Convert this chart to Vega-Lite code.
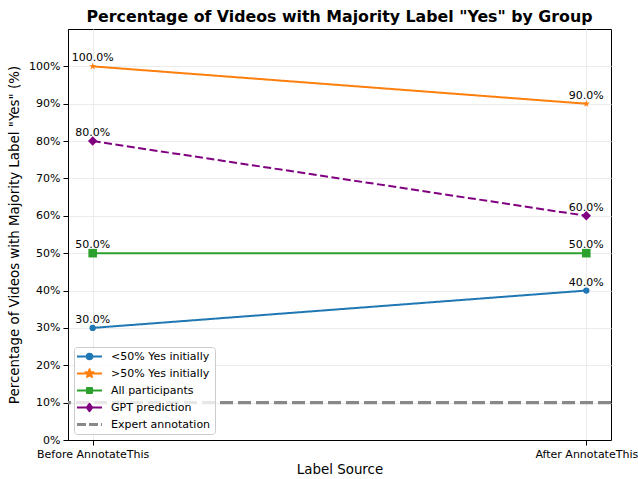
{
  "$schema": "https://vega.github.io/schema/vega-lite/v6.json",
  "width": 543,
  "height": 411,
  "autosize": {"type": "none"},
  "padding": {"left": 68, "top": 29, "right": 27, "bottom": 39},
  "background": "white",
  "title": {
    "text": "Percentage of Videos with Majority Label \"Yes\" by Group",
    "fontSize": 15.8,
    "fontWeight": "bold",
    "font": "DejaVu Sans",
    "color": "black",
    "anchor": "middle",
    "frame": "group",
    "baseline": "alphabetic",
    "offset": -9
  },
  "config": {
    "font": "DejaVu Sans",
    "view": {"stroke": "black", "strokeWidth": 1},
    "axis": {
      "domainColor": "black",
      "tickColor": "black",
      "labelColor": "black",
      "titleColor": "black",
      "labelFont": "DejaVu Sans",
      "titleFont": "DejaVu Sans",
      "labelFontSize": 11,
      "titleFontSize": 13.4,
      "titleFontWeight": "normal",
      "tickSize": 5,
      "labelPadding": 3,
      "gridColor": "#ebebeb",
      "gridWidth": 1
    }
  },
  "data": {
    "values": [
      {"series": "<50% Yes initially", "stage": "Before AnnotateThis", "value": 0.3},
      {"series": "<50% Yes initially", "stage": "After AnnotateThis", "value": 0.4},
      {"series": ">50% Yes initially", "stage": "Before AnnotateThis", "value": 1.0},
      {"series": ">50% Yes initially", "stage": "After AnnotateThis", "value": 0.9},
      {"series": "All participants", "stage": "Before AnnotateThis", "value": 0.5},
      {"series": "All participants", "stage": "After AnnotateThis", "value": 0.5},
      {"series": "GPT prediction", "stage": "Before AnnotateThis", "value": 0.8},
      {"series": "GPT prediction", "stage": "After AnnotateThis", "value": 0.6}
    ]
  },
  "layer": [
    {
      "data": {"values": [{"series": "Expert annotation", "value": 0.1}]},
      "mark": {"type": "rule", "strokeDash": [13, 5], "strokeWidth": 3.2},
      "encoding": {
        "y": {"field": "value", "type": "quantitative", "scale": {"domain": [0, 1.1], "nice": false}},
        "color": {"field": "series", "type": "nominal"}
      }
    },
    {
      "mark": {"type": "line", "strokeWidth": 2},
      "encoding": {
        "x": {
          "field": "stage",
          "type": "nominal",
          "sort": ["Before AnnotateThis", "After AnnotateThis"],
          "scale": {"type": "point", "padding": 0.05},
          "axis": {"labelAngle": 0, "title": "Label Source", "grid": true, "titlePadding": 3, "labelBaseline": "top"}
        },
        "y": {
          "field": "value",
          "type": "quantitative",
          "scale": {"domain": [0, 1.1], "nice": false},
          "axis": {
            "values": [0, 0.1, 0.2, 0.3, 0.4, 0.5, 0.6, 0.7, 0.8, 0.9, 1.0],
            "format": ".0%",
            "grid": true,
            "title": "Percentage of Videos with Majority Label \"Yes\" (%)",
            "titlePadding": 7
          }
        },
        "color": {
          "field": "series",
          "type": "nominal",
          "scale": {
            "domain": ["<50% Yes initially", ">50% Yes initially", "All participants", "GPT prediction", "Expert annotation"],
            "range": ["#1f77b4", "#ff7f0e", "#2ca02c", "#800080", "#888888"]
          },
          "legend": {
            "title": null,
            "orient": "bottom-left",
            "offset": 6,
            "symbolSize": 100,
            "symbolStrokeWidth": 2,
            "labelFontSize": 11,
            "labelFont": "DejaVu Sans",
            "labelColor": "black",
            "labelOffset": 22,
            "rowPadding": 5,
            "padding": 4,
            "fillColor": "rgba(255,255,255,0.8)",
            "strokeColor": "#cccccc",
            "cornerRadius": 3,
            "encoding": {
              "symbols": {
                "shape": {"value": {"expr": "datum.value === '<50% Yes initially' ? 'M-1.3,0H3.7M0.65,0A0.55,0.55,0,1,0,1.75,0A0.55,0.55,0,1,0,0.65,0Z' : datum.value === '>50% Yes initially' ? 'M-1.3,0H3.7M1.2,-0.85L1.391,-0.263L2.008,-0.263L1.509,0.1L1.7,0.688L1.2,0.325L0.7,0.688L0.891,0.1L0.392,-0.263L1.009,-0.263Z' : datum.value === 'All participants' ? 'M-1.3,0H3.7M0.7,-0.5H1.7V0.5H0.7Z' : datum.value === 'GPT prediction' ? 'M-1.3,0H3.7M1.2,-0.75L1.75,0L1.2,0.75L0.65,0Z' : 'M-1.3,0H3.7'"}},
                "fill": {"value": {"expr": "scale('color', datum.value)"}},
                "stroke": {"value": {"expr": "scale('color', datum.value)"}},
                "strokeDash": {"value": {"expr": "datum.value === 'Expert annotation' ? [9, 3] : []"}},
                "strokeWidth": {"value": {"expr": "datum.value === 'Expert annotation' ? 3 : 2"}},
                "strokeJoin": {"value": "round"},
                "opacity": {"value": 1},
                "fillOpacity": {"value": 1},
                "strokeOpacity": {"value": 1}
              }
            }
          }
        },
        "strokeDash": {
          "field": "series",
          "type": "nominal",
          "scale": {
            "domain": ["<50% Yes initially", ">50% Yes initially", "All participants", "GPT prediction"],
            "range": [[1, 0], [1, 0], [1, 0], [8, 3.5]]
          },
          "legend": null
        }
      }
    },
    {
      "mark": {"type": "point", "filled": true, "opacity": 1},
      "encoding": {
        "x": {"field": "stage", "type": "nominal", "sort": ["Before AnnotateThis", "After AnnotateThis"]},
        "y": {"field": "value", "type": "quantitative"},
        "color": {"field": "series", "type": "nominal"},
        "shape": {
          "field": "series",
          "type": "nominal",
          "scale": {
            "domain": ["<50% Yes initially", ">50% Yes initially", "All participants", "GPT prediction"],
            "range": ["circle", "M0,-1L0.2245,-0.309L0.951,-0.309L0.363,0.118L0.588,0.809L0,0.382L-0.588,0.809L-0.363,0.118L-0.951,-0.309L-0.2245,-0.309Z", "square", "diamond"]
          },
          "legend": null
        },
        "size": {
          "field": "series",
          "type": "nominal",
          "scale": {
            "domain": ["<50% Yes initially", ">50% Yes initially", "All participants", "GPT prediction"],
            "range": [40, 90, 56, 64]
          },
          "legend": null
        }
      }
    },
    {
      "mark": {"type": "text", "fontSize": 11, "font": "DejaVu Sans", "color": "black", "baseline": "alphabetic", "dy": -5, "align": "center"},
      "encoding": {
        "x": {"field": "stage", "type": "nominal", "sort": ["Before AnnotateThis", "After AnnotateThis"]},
        "y": {"field": "value", "type": "quantitative"},
        "text": {"field": "value", "type": "quantitative", "format": ".1%"}
      }
    }
  ]
}
